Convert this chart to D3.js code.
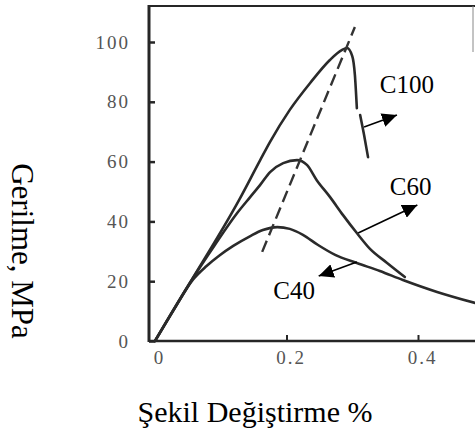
<!DOCTYPE html>
<html>
<head>
<meta charset="utf-8">
<script src="https://cdn.jsdelivr.net/npm/d3@7"></script>
<style>
  body { margin: 0; background: #fff; }
  svg text { font-family: "Liberation Serif", "DejaVu Serif", serif; }
</style>
</head>
<body>
<div id="chart"></div>
<script>
// data (strain %, stress MPa)
var c100Strain = [0, 0.053, 0.128, 0.160, 0.175, 0.205, 0.236, 0.266, 0.284, 0.292, 0.300, 0.304, 0.307];
var c100Stress = [0, 19.4, 47.2, 60.5, 66.6, 77.3, 86.3, 94.0, 97.3, 98.0, 95.3, 89.0, 77.9];
var c100TailStrain = [0.312, 0.318, 0.324];
var c100TailStress = [75.6, 68.9, 61.5];

var c60Strain = [0, 0.053, 0.091, 0.125, 0.145, 0.160, 0.175, 0.195, 0.216, 0.231, 0.246, 0.266, 0.286, 0.307, 0.327, 0.353, 0.380];
var c60Stress = [0, 19.4, 32.1, 42.8, 48.2, 52.2, 56.5, 59.5, 60.5, 58.9, 53.8, 48.2, 42.1, 36.1, 30.8, 26.1, 21.4];

var c40Strain = [0, 0.030, 0.058, 0.078, 0.098, 0.119, 0.145, 0.164, 0.186, 0.205, 0.225, 0.248, 0.274, 0.307, 0.342, 0.377, 0.429, 0.487];
var c40Stress = [0, 11.0, 20.6, 25.0, 28.6, 31.8, 35.1, 37.1, 38.1, 37.5, 35.5, 32.1, 28.8, 26.1, 23.4, 20.4, 16.4, 12.7];

// dashed peak line
var peakLineStrain = [0.163, 0.304];
var peakLineStress = [29.8, 105.0];

var xTicks = [0, 0.2, 0.4];
var xTickLabels = ["0", "0.2", "0.4"];
var yTicks = [0, 20, 40, 60, 80, 100];

// labels and arrows (data coords)
var labelNames = ["C100", "C60", "C40"];
var labelStrain = [0.342, 0.357, 0.180];
var labelStress = [82.9, 48.8, 14.0];
var arrowFrom = [[0.318, 71.6], [0.309, 36.1], [0.307, 26.4]];
var arrowTo = [[0.368, 75.6], [0.399, 45.5], [0.249, 21.7]];

var svgWidth = 475, svgHeight = 436;

var svg = d3.select("#chart").append("svg")
  .attr("width", svgWidth)
  .attr("height", svgHeight);

var x = d3.scaleLinear().domain([0, 0.4]).range([155, 418]);
var y = d3.scaleLinear().domain([0, 100]).range([341, 42]);

var frameLeft = 149, frameRight = 473, frameTop = 6, frameBottom = 341;

svg.append("defs").append("marker")
  .attr("id", "head")
  .attr("viewBox", "0 0 10 10")
  .attr("refX", 10).attr("refY", 5)
  .attr("markerWidth", 15).attr("markerHeight", 14)
  .attr("markerUnits", "userSpaceOnUse")
  .attr("preserveAspectRatio", "none")
  .attr("orient", "auto")
  .append("path")
  .attr("d", "M0,0 L10,5 L0,10 z")
  .attr("fill", "#000");

// frame
var ink = "#262626";
svg.append("line").attr("x1", frameLeft).attr("x2", frameLeft)
  .attr("y1", frameTop - 1).attr("y2", frameBottom + 1)
  .attr("stroke", ink).attr("stroke-width", 3);
svg.append("line").attr("x1", frameLeft).attr("x2", 475)
  .attr("y1", frameTop).attr("y2", frameTop)
  .attr("stroke", ink).attr("stroke-width", 2);
svg.append("line").attr("x1", frameLeft).attr("x2", 475)
  .attr("y1", frameBottom).attr("y2", frameBottom)
  .attr("stroke", ink).attr("stroke-width", 2.5);
svg.append("line").attr("x1", frameRight).attr("x2", frameRight)
  .attr("y1", frameTop).attr("y2", 52)
  .attr("stroke", "#888").attr("stroke-width", 1);

// axes
var leftAxis = d3.axisLeft(y).tickValues(yTicks).tickSize(-6).tickPadding(19);
var gy = svg.append("g").attr("transform", "translate(" + frameLeft + ",0)").call(leftAxis);
gy.select(".domain").remove();
gy.selectAll(".tick line").attr("stroke", ink).attr("stroke-width", 2.5);
gy.selectAll(".tick text")
  .attr("fill", "#555")
  .style("font-size", "19px")
  .style("letter-spacing", "2px");

var bottomAxis = d3.axisBottom(x).tickValues(xTicks)
  .tickFormat(function(d, i) { return xTickLabels[i]; })
  .tickSize(-6).tickPadding(10);
var gx = svg.append("g").attr("transform", "translate(0," + frameBottom + ")").call(bottomAxis);
gx.select(".domain").remove();
gx.selectAll(".tick line").attr("stroke", ink).attr("stroke-width", 2)
  .attr("opacity", function(d) { return d === 0 ? 0 : 1; });
gx.selectAll(".tick text")
  .attr("fill", "#555")
  .attr("dx", 4)
  .style("font-size", "19px")
  .style("letter-spacing", "2px");

// curves
var line = d3.line()
  .x(function(d) { return x(d[0]); })
  .y(function(d) { return y(d[1]); })
  .curve(d3.curveMonotoneX);

function pairs(a, b) { return a.map(function(v, i) { return [v, b[i]]; }); }

var curves = [
  pairs(c100Strain, c100Stress),
  pairs(c100TailStrain, c100TailStress),
  pairs(c60Strain, c60Stress),
  pairs(c40Strain, c40Stress)
];

svg.append("g").selectAll("path")
  .data(curves)
  .enter()
  .append("path")
  .attr("d", line)
  .attr("fill", "none")
  .attr("stroke", "#2a2a2a")
  .attr("stroke-width", 2.6)
  .attr("stroke-linecap", "round");

svg.append("path")
  .attr("d", d3.line().x(function(d) { return x(d[0]); }).y(function(d) { return y(d[1]); })(pairs(peakLineStrain, peakLineStress)))
  .attr("fill", "none")
  .attr("stroke", "#333")
  .attr("stroke-width", 2.4)
  .attr("stroke-dasharray", "12,6");

// arrows
svg.append("g").selectAll("line")
  .data(arrowFrom)
  .enter()
  .append("line")
  .attr("x1", function(d) { return x(d[0]); })
  .attr("y1", function(d) { return y(d[1]); })
  .attr("x2", function(d, i) { return x(arrowTo[i][0]); })
  .attr("y2", function(d, i) { return y(arrowTo[i][1]); })
  .attr("stroke", "#000")
  .attr("stroke-width", 1.6)
  .attr("marker-end", "url(#head)");

// curve labels
svg.append("g").selectAll("text")
  .data(labelNames)
  .enter()
  .append("text")
  .attr("x", function(d, i) { return x(labelStrain[i]); })
  .attr("y", function(d, i) { return y(labelStress[i]); })
  .attr("fill", "#000")
  .style("font-size", "25px")
  .text(function(d) { return d; });

// axis titles
svg.append("text")
  .attr("transform", "translate(12,251) rotate(90)")
  .attr("text-anchor", "middle")
  .attr("fill", "#000")
  .style("font-size", "31px")
  .text("Gerilme, MPa");

svg.append("text")
  .attr("x", 255)
  .attr("y", 422)
  .attr("text-anchor", "middle")
  .attr("fill", "#000")
  .style("font-size", "30px")
  .text("Şekil Değiştirme %");
</script>
</body>
</html>
